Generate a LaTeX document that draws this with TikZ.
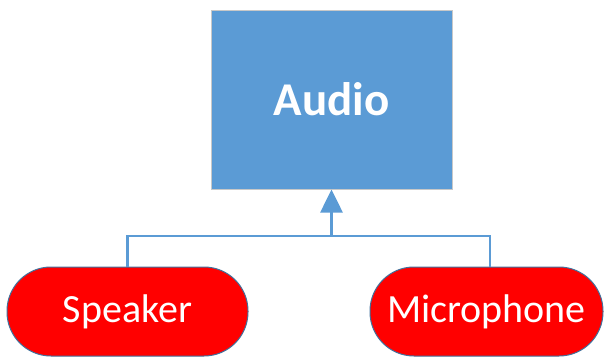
\documentclass[tikz,border=0pt]{standalone}
\usepackage{fontspec}
\setmainfont{Carlito}
\usetikzlibrary{arrows.meta}
\definecolor{boxblue}{HTML}{5B9BD5}
\definecolor{boxedge}{HTML}{C8C8C8}
\definecolor{pilledge}{HTML}{41719C}
\definecolor{pillred}{HTML}{FF0000}
\tikzset{
  mainbox/.style={draw=boxedge, line width=1pt, fill=boxblue, minimum width=241pt, minimum height=179pt, inner sep=0pt, text=white, font=\fontsize{47}{56}\selectfont\bfseries},
  pill/.style={draw=pilledge, line width=1pt, fill=pillred, rounded corners=44pt, minimum height=89pt, inner sep=0pt, text=white, font=\fontsize{40}{48}\selectfont},
  link/.style={draw=boxblue, line width=2.6pt},
}
\begin{document}
\begin{tikzpicture}[x=1pt,y=1pt]
\useasboundingbox (0,0) rectangle (608,360);
\fill[white] (0,0) rectangle (608,360);
\node[mainbox] (audio) at (331.5,260.5) {Audio};
\node[pill, minimum width=241pt] (spk) at (127.5,48.5) {Speaker};
\node[pill, minimum width=233pt] (mic) at (486.5,48.5) {Microphone};
\coordinate (j) at (331.5,124);
\coordinate (micin) at ([xshift=3.5pt]mic.north);
\draw[link] (spk.north) |- (j) -| (micin);
\draw[link, -{Triangle[width=22pt,length=23pt]}] (j) -- (audio.south);
\end{tikzpicture}
\end{document}
